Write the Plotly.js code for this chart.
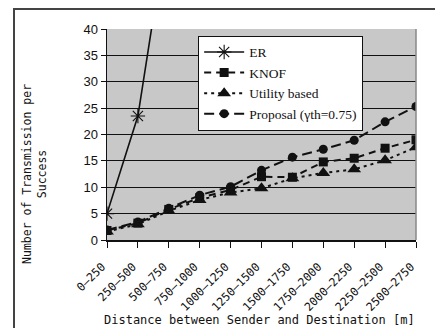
<!DOCTYPE html>
<html>
<head>
<meta charset="utf-8">
<script src="https://cdn.plot.ly/plotly-3.0.1.min.js"></script>
<style>
html,body{margin:0;padding:0;background:#fff;overflow:hidden;}
#wrap{position:relative;width:437px;height:328px;overflow:hidden;}
#chart{width:437px;height:328px;}
#frame{position:absolute;left:13px;top:8px;width:420px;height:318px;border-left:2px solid #444;border-top:2px solid #444;pointer-events:none;}
</style>
</head>
<body>
<div id="wrap"><div id="chart"></div><div id="frame"></div></div>
<script>
const categories = ["0–250","250–500","500–750","750–1000","1000–1250","1250–1500","1500–1750","1750–2000","2000–2250","2250–2500","2500–2750"];
const erValues = [5, 23.5, 61];
const knofValues = [1.8, 3.2, 5.8, 8.0, 9.5, 12.0, 11.9, 14.8, 15.5, 17.4, 19.0];
const utilityValues = [1.6, 3.0, 5.5, 7.6, 9.0, 9.8, 11.7, 12.7, 13.4, 15.1, 17.6];
const proposalValues = [1.9, 3.4, 6.0, 8.5, 10.1, 13.2, 15.7, 17.2, 18.9, 22.4, 25.3];
const seriesNames = ["ER", "KNOF", "Utility based", "Proposal (γth=0.75)"];

const traces = [
  {x: categories.slice(0, erValues.length), y: erValues, name: seriesNames[0], mode: "lines+markers",
   line: {color: "#111", width: 1.6}, marker: {symbol: "asterisk-open", size: 12, color: "#111", line: {width: 1.1, color: "#111"}}},
  {x: categories, y: knofValues, name: seriesNames[1], mode: "lines+markers",
   line: {color: "#111", width: 2, dash: "7px,5px"}, marker: {symbol: "square", size: 9, color: "#111"}},
  {x: categories, y: utilityValues, name: seriesNames[2], mode: "lines+markers",
   line: {color: "#111", width: 2, dash: "3px,4px"}, marker: {symbol: "triangle-up", size: 12, color: "#111"}},
  {x: categories, y: proposalValues, name: seriesNames[3], mode: "lines+markers",
   line: {color: "#111", width: 2, dash: "10px,5px"}, marker: {symbol: "circle", size: 9, color: "#111"}}
];

const layout = {
  width: 437, height: 328,
  margin: {l: 107, r: 21, t: 29, b: 88},
  paper_bgcolor: "rgba(0,0,0,0)",
  plot_bgcolor: "#c8c8c8",
  showlegend: true,
  legend: {x: 0.295, y: 0.968, xanchor: "left", yanchor: "top", bgcolor: "#fff", bordercolor: "#111", borderwidth: 1,
           itemwidth: 40, font: {family: "Liberation Serif", size: 13.5, color: "#111"}, tracegroupgap: 0},
  xaxis: {type: "category", range: [0, 10], showgrid: false, zeroline: false,
          showline: true, linecolor: "#111", linewidth: 1.5, mirror: false,
          ticks: "outside", ticklen: 6, tickcolor: "#111", tickangle: -45,
          ticklabelstandoff: 8, ticklabelshift: -5,
          tickfont: {family: "DejaVu Sans Mono", size: 11.5, color: "#111"}},
  yaxis: {range: [0, 40], dtick: 5, showgrid: true, gridcolor: "#111", gridwidth: 1, zeroline: false,
          showline: true, linecolor: "#111", linewidth: 1.5,
          ticks: "outside", ticklen: 5, tickcolor: "#111",
          tickfont: {family: "Liberation Sans", size: 13, color: "#111"}},
  shapes: [
    {type: "line", xref: "paper", yref: "paper", x0: 1, x1: 1, y0: 0, y1: 1, line: {color: "#888", width: 1.5}}
  ],
  annotations: [
    {text: "Number of Transmission per<br>Success", xref: "paper", yref: "paper", x: -0.233, y: 0.313,
     xanchor: "center", yanchor: "middle", textangle: -90, showarrow: false,
     font: {family: "DejaVu Sans Mono", size: 11.5, color: "#111"}},
    {text: "Distance between Sender and Destination [m]", xref: "paper", yref: "paper", x: 0.495, y: -0.38,
     xanchor: "center", yanchor: "middle", showarrow: false, font: {family: "DejaVu Sans Mono", size: 12, color: "#111"}}
  ]
};

Plotly.newPlot("chart", traces, layout, {staticPlot: true, displayModeBar: false});
</script>
</body>
</html>
